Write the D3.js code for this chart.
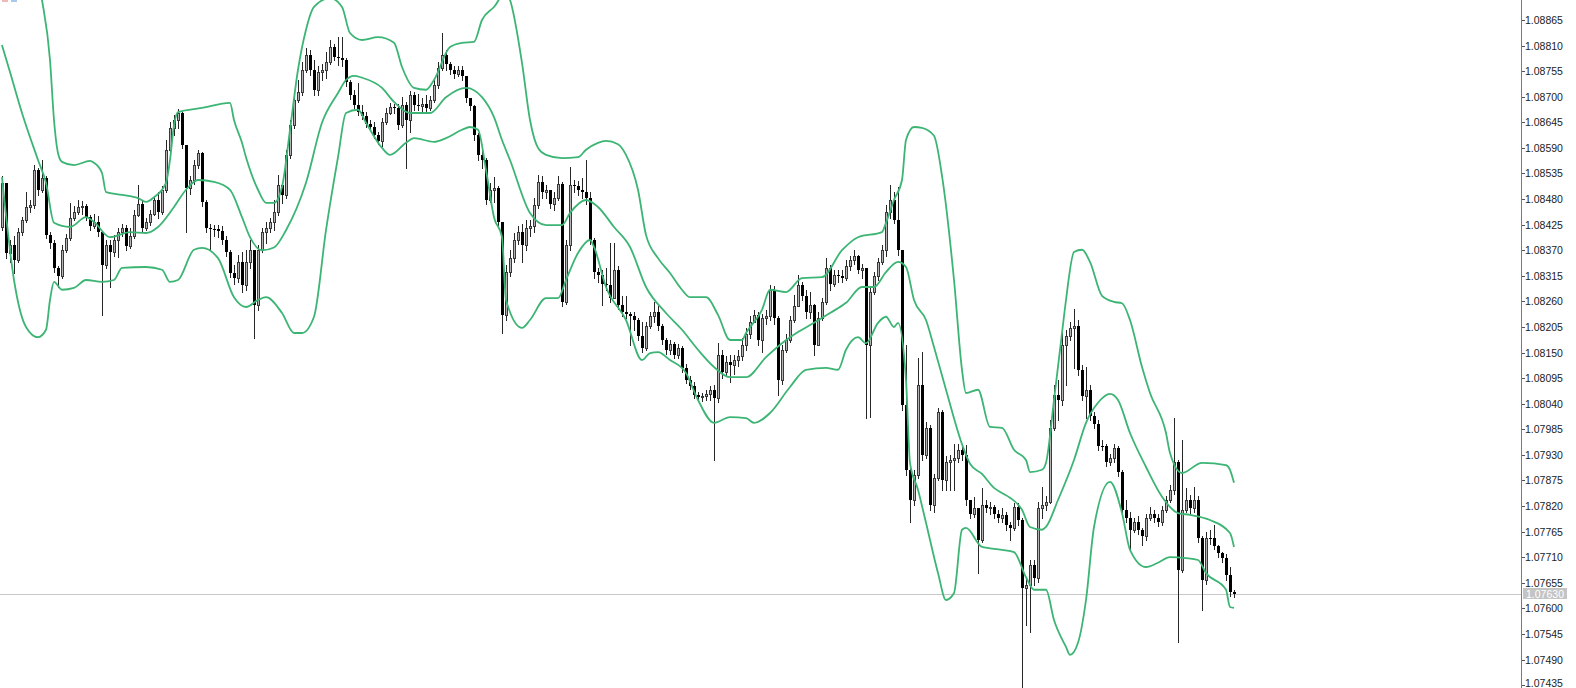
<!DOCTYPE html>
<html><head><meta charset="utf-8">
<script src="https://cdn.jsdelivr.net/npm/d3@7"></script>
<style>html,body{margin:0;padding:0;background:#fff;overflow:hidden}</style>
</head><body>
<svg id="chart" width="1576" height="688"></svg>
<script>
// ---- data (EURUSD-like candles, open = previous close) ----
const firstOpen = 1.08420;
const closes = [
1.08515,1.08364,1.08381,1.08349,1.08409,1.08435,1.08463,1.08467,1.08542,1.08499,1.08525,1.08403,1.08386,1.08332,1.08315,1.08370,1.08396,1.08439,1.08452,1.08463,1.08465,1.08441,1.08422,1.08431,1.08409,1.08338,1.08381,1.08366,1.08392,1.08409,1.08418,1.08379,1.08401,1.08446,1.08469,1.08418,1.08431,1.08448,1.08478,1.08452,1.08499,1.08585,1.08633,1.08650,1.08665,1.08596,1.08504,1.08521,1.08553,1.08579,1.08474,1.08418,1.08416,1.08416,1.08411,1.08392,1.08366,1.08321,1.08310,1.08345,1.08295,1.08345,1.08370,
1.08252,1.08370,1.08409,1.08418,1.08431,1.08452,1.08510,1.08489,1.08575,1.08639,1.08693,1.08710,1.08757,1.08790,1.08757,1.08714,1.08753,1.08757,1.08775,1.08807,1.08785,1.08783,1.08779,1.08732,1.08704,1.08682,1.08667,1.08659,1.08641,1.08635,1.08618,1.08605,1.08646,1.08665,1.08678,1.08676,1.08639,1.08682,1.08650,1.08704,1.08682,1.08680,1.08684,1.08676,1.08693,1.08725,1.08762,1.08790,1.08770,1.08757,1.08749,1.08757,1.08745,1.08697,1.08680,1.08618,1.08575,1.08564,1.08478,1.08499,1.08504,1.08431,
1.08231,1.08323,1.08353,1.08392,1.08409,1.08381,1.08418,1.08422,1.08467,1.08517,1.08495,1.08499,1.08469,1.08482,1.08512,1.08259,1.08381,1.08510,1.08508,1.08499,1.08495,1.08482,1.08392,1.08323,1.08317,1.08297,1.08295,1.08267,1.08328,1.08252,1.08237,1.08233,1.08229,1.08220,1.08186,1.08160,1.08207,1.08229,1.08237,1.08207,1.08177,1.08155,1.08168,1.08145,1.08160,1.08117,1.08091,1.08078,1.08059,1.08054,1.08057,1.08061,1.08069,1.08052,1.08145,1.08108,1.08130,1.08123,1.08134,1.08143,1.08166,1.08190,
1.08216,1.08231,1.08177,1.08224,1.08229,1.08285,1.08224,1.08091,1.08156,1.08177,1.08220,1.08250,1.08295,1.08272,1.08237,1.08252,1.08166,1.08224,1.08259,1.08332,1.08297,1.08317,1.08315,1.08310,1.08336,1.08349,1.08358,1.08328,1.08332,1.08166,1.08280,1.08315,1.08345,1.08370,1.08452,1.08478,1.08435,1.08370,1.08037,1.07898,1.07833,1.07887,1.08080,1.07930,1.07988,1.07822,1.07880,1.08022,1.07876,1.07915,1.07919,1.07923,1.07941,1.07930,1.07833,1.07803,1.07816,1.07747,1.07822,1.07816,1.07818,1.07803,1.07794,
1.07801,1.07779,1.07773,1.07818,1.07790,1.07644,1.07650,1.07693,1.07665,1.07816,1.07822,1.07829,1.07988,1.08059,1.08048,1.08166,1.08186,1.08203,1.08207,1.08113,1.08057,1.08069,1.08013,1.07996,1.07949,1.07949,1.07915,1.07923,1.07945,1.07893,1.07812,1.07794,1.07769,1.07786,1.07769,1.07756,1.07794,1.07803,1.07794,1.07786,1.07812,1.07833,1.07855,1.07915,1.07683,1.07812,1.07833,1.07816,1.07833,1.07751,1.07661,1.07751,1.07751,1.07734,1.07719,1.07708,1.07672,1.07635,1.07630];
const highs = [
1.08530,1.08510,1.08392,1.08401,1.08418,1.08441,1.08495,1.08478,1.08553,1.08547,1.08564,1.08530,1.08409,1.08392,1.08336,1.08381,1.08405,1.08472,1.08465,1.08478,1.08476,1.08469,1.08446,1.08448,1.08444,1.08396,1.08392,1.08392,1.08403,1.08418,1.08426,1.08424,1.08418,1.08457,1.08510,1.08478,1.08439,1.08457,1.08487,1.08495,1.08508,1.08607,1.08646,1.08661,1.08674,1.08667,1.08594,1.08530,1.08564,1.08586,1.08581,1.08478,1.08426,1.08424,1.08424,1.08422,1.08401,1.08370,1.08338,1.08360,1.08366,1.08370,1.08392,
1.08353,1.08381,1.08418,1.08431,1.08439,1.08478,1.08532,1.08517,1.08586,1.08650,1.08704,1.08736,1.08775,1.08805,1.08800,1.08779,1.08766,1.08770,1.08796,1.08822,1.08813,1.08828,1.08828,1.08783,1.08736,1.08714,1.08730,1.08682,1.08667,1.08650,1.08646,1.08624,1.08654,1.08676,1.08687,1.08684,1.08684,1.08699,1.08689,1.08712,1.08710,1.08706,1.08697,1.08704,1.08702,1.08736,1.08775,1.08837,1.08800,1.08775,1.08766,1.08766,1.08766,1.08745,1.08697,1.08682,1.08622,1.08590,1.08568,1.08515,1.08527,1.08508,
1.08431,1.08338,1.08370,1.08407,1.08422,1.08426,1.08435,1.08435,1.08482,1.08532,1.08530,1.08510,1.08499,1.08495,1.08530,1.08517,1.08392,1.08549,1.08521,1.08519,1.08525,1.08564,1.08495,1.08396,1.08332,1.08328,1.08332,1.08386,1.08386,1.08336,1.08272,1.08272,1.08237,1.08237,1.08224,1.08216,1.08216,1.08237,1.08259,1.08250,1.08211,1.08181,1.08177,1.08173,1.08168,1.08164,1.08125,1.08100,1.08087,1.08065,1.08063,1.08069,1.08078,1.08080,1.08171,1.08156,1.08143,1.08145,1.08145,1.08156,1.08181,1.08203,
1.08229,1.08242,1.08237,1.08233,1.08242,1.08295,1.08293,1.08229,1.08166,1.08190,1.08229,1.08274,1.08317,1.08302,1.08285,1.08280,1.08254,1.08237,1.08267,1.08353,1.08338,1.08328,1.08328,1.08328,1.08349,1.08358,1.08370,1.08360,1.08340,1.08332,1.08293,1.08323,1.08353,1.08381,1.08467,1.08510,1.08495,1.08506,1.08370,1.08166,1.07902,1.07898,1.08138,1.08151,1.08001,1.07994,1.07889,1.08031,1.08027,1.07928,1.07930,1.07953,1.07953,1.07951,1.07951,1.07822,1.07839,1.07812,1.07859,1.07833,1.07829,1.07822,1.07812,
1.07816,1.07807,1.07786,1.07827,1.07827,1.07794,1.07665,1.07704,1.07704,1.07829,1.07861,1.07842,1.08005,1.08080,1.08091,1.08209,1.08198,1.08216,1.08244,1.08220,1.08123,1.08119,1.08080,1.08022,1.08005,1.07962,1.07953,1.07932,1.07953,1.07949,1.07898,1.07833,1.07807,1.07794,1.07799,1.07773,1.07803,1.07818,1.07812,1.07803,1.07820,1.07842,1.07865,1.08009,1.07919,1.07962,1.07859,1.07844,1.07861,1.07842,1.07756,1.07764,1.07769,1.07779,1.07736,1.07721,1.07717,1.07689,1.07640];
const lows = [
1.08413,1.08353,1.08345,1.08321,1.08345,1.08403,1.08431,1.08452,1.08461,1.08489,1.08495,1.08396,1.08375,1.08323,1.08291,1.08310,1.08366,1.08392,1.08435,1.08448,1.08448,1.08435,1.08413,1.08418,1.08401,1.08231,1.08332,1.08291,1.08358,1.08355,1.08401,1.08370,1.08375,1.08396,1.08444,1.08409,1.08413,1.08424,1.08446,1.08439,1.08448,1.08495,1.08581,1.08618,1.08633,1.08590,1.08409,1.08491,1.08512,1.08547,1.08465,1.08409,1.08370,1.08401,1.08398,1.08383,1.08358,1.08312,1.08297,1.08302,1.08280,1.08285,1.08332,
1.08181,1.08241,1.08366,1.08386,1.08409,1.08413,1.08446,1.08472,1.08482,1.08568,1.08633,1.08689,1.08704,1.08753,1.08747,1.08704,1.08704,1.08736,1.08740,1.08770,1.08779,1.08768,1.08766,1.08723,1.08695,1.08676,1.08661,1.08652,1.08635,1.08628,1.08611,1.08598,1.08594,1.08641,1.08663,1.08665,1.08631,1.08635,1.08547,1.08624,1.08672,1.08672,1.08667,1.08667,1.08672,1.08689,1.08719,1.08757,1.08757,1.08749,1.08740,1.08745,1.08736,1.08689,1.08672,1.08607,1.08564,1.08547,1.08469,1.08474,1.08474,1.08422,
1.08192,1.08220,1.08315,1.08345,1.08383,1.08345,1.08370,1.08401,1.08409,1.08461,1.08482,1.08482,1.08461,1.08457,1.08478,1.08250,1.08254,1.08370,1.08495,1.08489,1.08482,1.08469,1.08383,1.08310,1.08302,1.08252,1.08285,1.08259,1.08272,1.08244,1.08229,1.08224,1.08166,1.08198,1.08177,1.08151,1.08155,1.08203,1.08216,1.08198,1.08168,1.08147,1.08147,1.08138,1.08138,1.08108,1.08085,1.08072,1.08052,1.08048,1.08046,1.08048,1.08048,1.07919,1.08044,1.08095,1.08102,1.08087,1.08104,1.08121,1.08134,1.08156,
1.08181,1.08216,1.08166,1.08151,1.08211,1.08220,1.08211,1.08059,1.08082,1.08151,1.08173,1.08216,1.08250,1.08263,1.08224,1.08224,1.08145,1.08166,1.08220,1.08254,1.08285,1.08293,1.08302,1.08302,1.08306,1.08328,1.08340,1.08321,1.08310,1.08009,1.08011,1.08276,1.08306,1.08340,1.08358,1.08439,1.08429,1.08360,1.08027,1.07887,1.07786,1.07822,1.07880,1.07919,1.07923,1.07812,1.07807,1.07876,1.07855,1.07855,1.07855,1.07855,1.07915,1.07919,1.07822,1.07794,1.07796,1.07676,1.07743,1.07807,1.07803,1.07794,1.07786,
1.07786,1.07769,1.07747,1.07769,1.07779,1.07429,1.07564,1.07549,1.07650,1.07657,1.07794,1.07812,1.07827,1.07984,1.08005,1.08037,1.08080,1.08177,1.08117,1.08102,1.08048,1.08009,1.08005,1.07988,1.07941,1.07941,1.07906,1.07908,1.07915,1.07885,1.07801,1.07786,1.07726,1.07764,1.07760,1.07736,1.07747,1.07790,1.07786,1.07777,1.07779,1.07807,1.07829,1.07846,1.07528,1.07678,1.07807,1.07803,1.07807,1.07743,1.07597,1.07652,1.07738,1.07728,1.07710,1.07700,1.07661,1.07627,1.07625];

// Bollinger band readings (bar index, price)
const upperIdx = [0,8,10,12,13,14,15,18,22,23,25,26,30,34,36,38,41,42,43,44,50,57,58,60,61,64,66,68,70,72,74,76,78,82,85,87,90,94,98,100,103,106,108,112,115,118,120,123,126,127,130,132,134,136,140,144,146,149,151,154,156,159,161,164,167,170,172,176,179,182,185,186,190,192,196,200,205,210,214,220,221,223,225,226,228,230,233,235,238,240,241,244,247,250,253,256,257,260,261,263,265,266,268,270,272,275,278,280,282,285,287,291,292,295,300,306,307,308];
const upperVal = [1.09230,1.08994,1.08908,1.08779,1.08650,1.08579,1.08560,1.08553,1.08562,1.08558,1.08536,1.08495,1.08489,1.08482,1.08474,1.08484,1.08515,1.08564,1.08639,1.08667,1.08676,1.08687,1.08650,1.08601,1.08570,1.08500,1.08472,1.08472,1.08506,1.08629,1.08758,1.08844,1.08893,1.08912,1.08893,1.08837,1.08822,1.08828,1.08816,1.08764,1.08719,1.08715,1.08736,1.08807,1.08816,1.08818,1.08865,1.08893,1.08925,1.08908,1.08773,1.08650,1.08590,1.08575,1.08568,1.08570,1.08586,1.08601,1.08605,1.08598,1.08575,1.08500,1.08403,1.08353,1.08321,1.08285,1.08269,1.08269,1.08231,1.08177,1.08177,1.08192,1.08242,1.08285,1.08280,1.08310,1.08312,1.08370,1.08398,1.08409,1.08429,1.08478,1.08521,1.08607,1.08635,1.08633,1.08616,1.08530,1.08306,1.08113,1.08063,1.08070,1.07990,1.07988,1.07941,1.07919,1.07893,1.07898,1.07913,1.08048,1.08192,1.08263,1.08366,1.08371,1.08345,1.08272,1.08259,1.08256,1.08220,1.08119,1.08063,1.07977,1.07934,1.07891,1.07913,1.07908,1.07898,1.07870];
const middleIdx = [0,2,5,9,11,13,17,21,23,27,32,36,39,43,46,49,53,57,60,62,65,68,71,76,80,84,86,88,90,95,98,102,107,111,116,120,123,125,127,132,136,140,142,146,149,153,157,161,166,170,174,178,182,186,191,195,199,203,207,211,215,218,221,224,226,228,231,233,236,240,242,245,248,250,252,255,257,260,261,264,268,271,274,277,279,282,286,290,294,297,302,307,308];
const middleVal = [1.08811,1.08753,1.08665,1.08564,1.08515,1.08429,1.08420,1.08441,1.08431,1.08398,1.08409,1.08407,1.08420,1.08463,1.08500,1.08521,1.08517,1.08500,1.08441,1.08398,1.08370,1.08376,1.08413,1.08515,1.08644,1.08708,1.08736,1.08745,1.08741,1.08719,1.08689,1.08665,1.08665,1.08699,1.08719,1.08699,1.08656,1.08607,1.08564,1.08450,1.08424,1.08424,1.08450,1.08478,1.08463,1.08420,1.08377,1.08291,1.08235,1.08199,1.08156,1.08119,1.08097,1.08097,1.08140,1.08170,1.08194,1.08214,1.08235,1.08257,1.08291,1.08291,1.08323,1.08345,1.08334,1.08263,1.08220,1.08162,1.08070,1.07953,1.07911,1.07889,1.07859,1.07848,1.07838,1.07812,1.07775,1.07769,1.07775,1.07833,1.07919,1.07999,1.08042,1.08061,1.08048,1.07977,1.07904,1.07840,1.07805,1.07801,1.07790,1.07762,1.07732];
const lowerIdx = [0,3,6,9,11,12,13,15,18,21,25,28,30,36,40,42,44,48,50,54,58,61,64,66,70,73,75,78,81,84,86,89,91,95,97,101,103,108,111,115,117,119,121,123,125,126,130,132,136,139,141,144,147,148,151,156,160,162,164,167,171,174,178,182,186,188,192,197,201,206,209,211,214,216,219,221,223,224,226,227,229,231,234,236,238,240,241,245,250,253,256,258,261,263,266,267,269,271,273,277,280,282,286,289,292,296,299,301,306,307,308];
const lowerVal = [1.08527,1.08306,1.08205,1.08183,1.08199,1.08263,1.08302,1.08285,1.08289,1.08306,1.08302,1.08306,1.08332,1.08334,1.08328,1.08302,1.08306,1.08371,1.08375,1.08353,1.08269,1.08248,1.08263,1.08269,1.08235,1.08192,1.08192,1.08227,1.08413,1.08570,1.08665,1.08672,1.08644,1.08590,1.08575,1.08601,1.08611,1.08603,1.08611,1.08629,1.08635,1.08629,1.08543,1.08441,1.08398,1.08263,1.08203,1.08220,1.08267,1.08267,1.08306,1.08364,1.08392,1.08377,1.08291,1.08220,1.08134,1.08149,1.08151,1.08134,1.08106,1.08048,1.07999,1.08011,1.08009,1.07999,1.08020,1.08076,1.08113,1.08117,1.08113,1.08156,1.08183,1.08170,1.08214,1.08227,1.08205,1.08214,1.08091,1.07913,1.07855,1.07784,1.07676,1.07618,1.07633,1.07769,1.07773,1.07732,1.07726,1.07721,1.07667,1.07640,1.07640,1.07575,1.07517,1.07500,1.07526,1.07618,1.07775,1.07872,1.07805,1.07726,1.07689,1.07698,1.07710,1.07708,1.07704,1.07676,1.07640,1.07603,1.07601];

const priceTicks = [1.08865,1.08810,1.08755,1.08700,1.08645,1.08590,1.08535,1.08480,1.08425,1.08370,1.08315,1.08260,1.08205,1.08150,1.08095,1.08040,1.07985,1.07930,1.07875,1.07820,1.07765,1.07710,1.07655,1.07600,1.07545,1.07490,1.07435];
const lastPrice = 1.07630;

// ---- drawing ----
const W = 1576, H = 688, axisX = 1521;
const svg = d3.select("#chart");
const y = d3.scaleLinear().domain([1.074288, 1.08908]).range([H, 0]);
const x = d3.scaleLinear().domain([0, closes.length - 1]).range([2, 1234]);

svg.append("rect").attr("width", W).attr("height", H).attr("fill", "#fff");
svg.append("defs").append("clipPath").attr("id", "plot")
  .append("rect").attr("x", 0).attr("y", 0).attr("width", axisX).attr("height", H);

// toolbar remnants top-left
svg.append("rect").attr("x", 2).attr("y", 0).attr("width", 6).attr("height", 2).attr("fill", "#f2b8b8");
svg.append("rect").attr("x", 11).attr("y", 0).attr("width", 6).attr("height", 2).attr("fill", "#a8c8ec");

const plot = svg.append("g").attr("clip-path", "url(#plot)");

// current price line
const yLast = Math.round(y(lastPrice)) + 0.5;
plot.append("line").attr("x1", 0).attr("x2", axisX).attr("y1", yLast).attr("y2", yLast)
  .attr("stroke", "#c8c8c8").attr("stroke-width", 1);

// candles
const candles = closes.map((c, i) => {
  const o = i === 0 ? firstOpen : closes[i - 1];
  return { i, o, c, h: Math.max(highs[i], o, c), l: Math.min(lows[i], o, c) };
});
const cg = plot.append("g");
candles.forEach(d => {
  const cx = Math.round(x(d.i));
  cg.append("line").attr("x1", cx + 0.5).attr("x2", cx + 0.5)
    .attr("y1", Math.round(y(d.h))).attr("y2", Math.round(y(d.l)) + 1)
    .attr("stroke", "#262626").attr("stroke-width", 1);
  const top = Math.round(y(Math.max(d.o, d.c)));
  const bot = Math.round(y(Math.min(d.o, d.c)));
  if (d.c > d.o) {
    cg.append("rect").attr("x", cx - 0.5).attr("y", top + 0.5)
      .attr("width", 2).attr("height", Math.max(bot - top, 1))
      .attr("fill", "#b4b4b4").attr("stroke", "#3a3a3a").attr("stroke-width", 1);
  } else {
    cg.append("rect").attr("x", cx - 1).attr("y", top)
      .attr("width", 3).attr("height", Math.max(bot - top, 1)).attr("fill", "#000");
  }
});

// bands
const line = d3.line().curve(d3.curveMonotoneX);
[[upperIdx, upperVal], [middleIdx, middleVal], [lowerIdx, lowerVal]].forEach(([ix, vals]) => {
  plot.append("path")
    .attr("d", line(ix.map((k, j) => [x(k), y(vals[j])])))
    .attr("fill", "none").attr("stroke", "#3cb574").attr("stroke-width", 1.8);
});

// price axis
svg.append("line").attr("x1", axisX + 0.5).attr("x2", axisX + 0.5).attr("y1", 0).attr("y2", H)
  .attr("stroke", "#7a7a7a").attr("stroke-width", 1);
const ag = svg.append("g");
priceTicks.forEach(p => {
  const ty = Math.round(y(p)) + 0.5;
  ag.append("line").attr("x1", axisX + 1).attr("x2", axisX + 4).attr("y1", ty).attr("y2", ty)
    .attr("stroke", "#555");
  ag.append("text").attr("x", axisX + 4).attr("y", Math.min(ty + 3.8, H - 1))
    .attr("font-family", "'Liberation Sans', Arial, sans-serif").attr("font-size", "10.5px")
    .attr("fill", "#222").text(p.toFixed(5));
});
// current price tag
ag.append("rect").attr("x", axisX + 2).attr("y", yLast - 6.5).attr("width", 44).attr("height", 11)
  .attr("fill", "#c4c4c4");
ag.append("text").attr("x", axisX + 24).attr("y", yLast + 3.3).attr("text-anchor", "middle")
  .attr("font-family", "'Liberation Sans', Arial, sans-serif").attr("font-size", "10.5px")
  .attr("fill", "#fff").text(lastPrice.toFixed(5));
</script>
</body></html>
